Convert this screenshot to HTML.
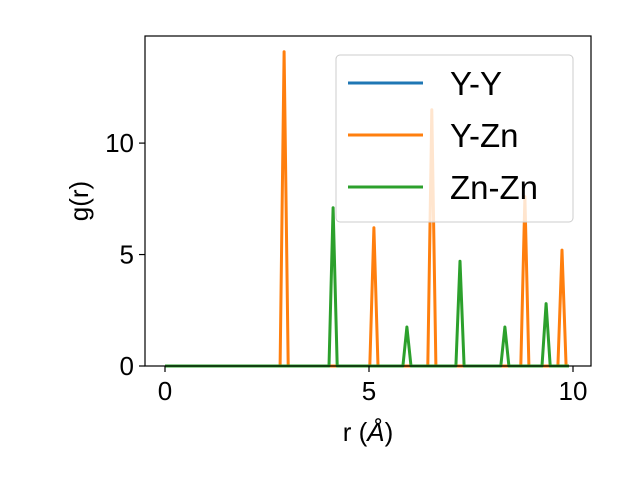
<!DOCTYPE html>
<html><head><meta charset="utf-8"><style>body{margin:0;background:#fff}svg{display:block;font-family:"Liberation Sans",sans-serif}</style></head>
<body>
<svg id="c" width="640" height="480"></svg>
<script>
const rMin = 0, rMax = 9.9;
const yyPeaks = [];
const yyHeights = [];
const yznPeaks = [2.92, 5.12, 6.54, 8.82, 9.73];
const yznHeights = [14.1, 6.2, 11.5, 7.6, 5.2];
const znznPeaks = [4.12, 5.93, 7.23, 8.33, 9.34];
const znznHeights = [7.1, 1.75, 4.7, 1.75, 2.8];
const xTicks = [0, 5, 10];
const yTicks = [0, 5, 10];
const NS = "http://www.w3.org/2000/svg";
const svg = document.getElementById('c');
const L = 145, R = 591, T = 36, B = 366;
const yMax = 14.1 * 1.05;
const xs = v => 165 + v * 40.8;
const ys = v => B - v * (B - T) / yMax;
function el(t, a, p) { const e = document.createElementNS(NS, t); for (const k in a) e.setAttribute(k, a[k]); (p || svg).appendChild(e); return e; }
function series(peaks, hs) {
  const pts = [[rMin, 0]];
  peaks.forEach((p, i) => { pts.push([p - 0.1, 0], [p, hs[i]], [p + 0.1, 0]); });
  pts.push([rMax, 0]);
  return pts.map(q => xs(q[0]).toFixed(1) + ',' + ys(q[1]).toFixed(1)).join(' ');
}
const colors = ['#1f77b4', '#ff7f0e', '#2ca02c'];
const names = ['Y-Y', 'Y-Zn', 'Zn-Zn'];
const sets = [[yyPeaks, yyHeights], [yznPeaks, yznHeights], [znznPeaks, znznHeights]];
sets.forEach((s, i) => {
  const l = el('polyline', { points: series(s[0], s[1]), fill: 'none', stroke: colors[i], 'stroke-width': 3, 'stroke-linejoin': 'round' });
  
  
});
const frame = el('rect', { x: L, y: T, width: R - L, height: B - T, fill: 'none', stroke: '#000', 'stroke-width': 1.2 });


xTicks.forEach(v => {
  el('line', { x1: xs(v), x2: xs(v), y1: B, y2: B + 6, stroke: '#000', 'stroke-width': 1.2 });
  const t = el('text', { x: xs(v), y: B + 34, 'font-size': 26, 'text-anchor': 'middle' }); t.textContent = v;
  
  
});
yTicks.forEach(v => {
  el('line', { x1: L - 6, x2: L, y1: ys(v), y2: ys(v), stroke: '#000', 'stroke-width': 1.2 });
  const t = el('text', { x: L - 11, y: ys(v) + 9, 'font-size': 26, 'text-anchor': 'end' }); t.textContent = v;
  
  
});
const xt = el('text', { x: 368, y: 441, 'font-size': 26, 'text-anchor': 'middle' });
xt.innerHTML = 'r (<tspan font-style="italic">Å</tspan>)';


const yt = el('text', { x: 88, y: 201, 'font-size': 26, 'text-anchor': 'middle', transform: 'rotate(-90 88 201)' });
yt.textContent = 'g(r)';


const lg = el('g', {});


el('rect', { x: 336, y: 55, width: 237, height: 167, rx: 4, fill: 'rgba(255,255,255,0.8)', stroke: '#ccc' }, lg);
names.forEach((n, i) => {
  const y = 83 + i * 52;
  el('line', { x1: 348, x2: 423, y1: y, y2: y, stroke: colors[i], 'stroke-width': 3 }, lg);
  const t = el('text', { x: 450, y: y + 12, 'font-size': 33 }, lg); t.textContent = n;
  
  
});
</script>
</body></html>
